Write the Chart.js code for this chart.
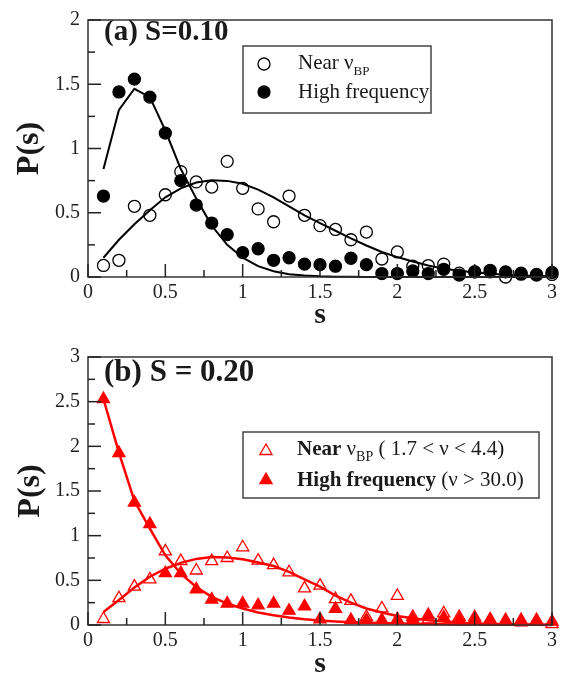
<!DOCTYPE html>
<html>
<head>
<meta charset="utf-8">
<title>P(s)</title>
<script src="https://cdn.jsdelivr.net/npm/chart.js"></script>
<style>
  html, body { margin: 0; padding: 0; background: #fff; }
  #wrap { position: relative; width: 572px; height: 674px; }
  canvas { position: absolute; left: 0; }
  #chartA { top: 0; }
  #chartB { top: 337px; }
</style>
</head>
<body>
<div id="wrap">
  <canvas id="chartA" width="572" height="337"></canvas>
  <canvas id="chartB" width="572" height="337"></canvas>
</div>
<script>
// spacing values s shared by every series
const sPoints = [0.1, 0.2, 0.3, 0.4, 0.5, 0.6, 0.7, 0.8, 0.9, 1.0,
                 1.1, 1.2, 1.3, 1.4, 1.5, 1.6, 1.7, 1.8, 1.9, 2.0,
                 2.1, 2.2, 2.3, 2.4, 2.5, 2.6, 2.7, 2.8, 2.9, 3.0];

// (a) S = 0.10
const nearA = [0.09, 0.13, 0.55, 0.48, 0.64, 0.82, 0.74, 0.70, 0.90, 0.69,
               0.53, 0.43, 0.63, 0.48, 0.40, 0.37, 0.29, 0.35, 0.14, 0.195,
               0.084, 0.089, 0.10, 0.03, 0.04, 0.04, 0.0, 0.03, 0.02, 0.02];
const highA = [0.63, 1.44, 1.54, 1.40, 1.12, 0.75, 0.56, 0.42, 0.33, 0.19,
               0.22, 0.13, 0.15, 0.10, 0.096, 0.084, 0.146, 0.096, 0.027, 0.027,
               0.047, 0.027, 0.06, 0.015, 0.04, 0.052, 0.04, 0.022, 0.015, 0.035];
const nearFitA = [0.15, 0.29, 0.41, 0.52, 0.62, 0.69, 0.735, 0.753, 0.748, 0.726,
                  0.68, 0.62, 0.55, 0.48, 0.42, 0.36, 0.30, 0.245, 0.195, 0.155,
                  0.12, 0.09, 0.064, 0.048, 0.035, 0.025, 0.018, 0.012, 0.008, 0.005];
const highFitA = [0.84, 1.30, 1.465, 1.40, 1.14, 0.84, 0.61, 0.40, 0.25, 0.15,
                  0.085, 0.045, 0.022, 0.011, 0.005, 0.002, 0.001, 0, 0, 0,
                  0, 0, 0, 0, 0, 0, 0, 0, 0, 0];

// (b) S = 0.20
const nearB = [0.067, 0.30, 0.43, 0.51, 0.825, 0.715, 0.61, 0.715, 0.75, 0.87,
               0.72, 0.67, 0.59, 0.41, 0.44, 0.29, 0.27, 0.09, 0.185, 0.325,
               0.09, 0.063, 0.13, 0.09, 0.085, 0.037, 0.037, 0.03, 0.037, 0.01];
const highB = [2.53, 1.925, 1.37, 1.13, 0.58, 0.58, 0.40, 0.285, 0.24, 0.24,
               0.22, 0.24, 0.16, 0.21, 0.063, 0.18, 0.055, 0.055, 0.055, 0.063,
               0.063, 0.11, 0.085, 0.063, 0.063, 0.063, 0.055, 0.055, 0.055, 0.037];
const nearFitB = [0.145, 0.28, 0.42, 0.54, 0.63, 0.695, 0.74, 0.76, 0.755, 0.735,
                  0.70, 0.66, 0.595, 0.51, 0.43, 0.33, 0.25, 0.185, 0.14, 0.10,
                  0.075, 0.052, 0.038, 0.026, 0.018, 0.012, 0.008, 0.005, 0.003, 0.002];
const highFitB = [2.53, 1.93, 1.39, 1.08, 0.78, 0.575, 0.425, 0.315, 0.24, 0.185,
                  0.14, 0.11, 0.085, 0.065, 0.05, 0.04, 0.032, 0.026, 0.021, 0.017,
                  0.013, 0.01, 0.008, 0.006, 0.005, 0.004, 0.003, 0.002, 0.002, 0.001];

// axis ticks
const xTicks = [0, 0.5, 1, 1.5, 2, 2.5, 3];
const yTicksA = [0, 0.5, 1, 1.5, 2];
const yTicksB = [0, 0.5, 1, 1.5, 2, 2.5, 3];

const SERIF = '"Liberation Serif", "Times New Roman", serif';
const INK = '#1a1a1a';

function xy(values) {
  return sPoints.map((s, i) => ({ x: s, y: values[i] }));
}

function drawRuns(ctx, runs, x, y) {
  let cx = x;
  for (const r of runs) {
    ctx.font = r.font;
    ctx.fillText(r.text, cx, y + (r.dy || 0));
    cx += ctx.measureText(r.text).width;
  }
}

// frame, inward ticks, panel label, axis titles and legend box
const panelDecor = {
  id: 'panelDecor',
  afterDatasetsDraw(chart, args, opts) {
    const { ctx, chartArea: a, scales } = chart;
    const sx = scales.x, sy = scales.y;
    ctx.save();

    ctx.strokeStyle = '#333';
    ctx.lineWidth = 1.5;
    ctx.strokeRect(a.left, a.top, a.right - a.left, a.bottom - a.top);

    ctx.strokeStyle = '#222';
    ctx.lineWidth = 1.5;
    const tick = (vals, horizontal) => {
      vals.forEach((v, i) => {
        const marks = [[v, 13]];
        if (i < vals.length - 1) marks.push([(v + vals[i + 1]) / 2, 7]);
        marks.forEach(([t, l]) => {
          ctx.beginPath();
          if (horizontal) {
            const px = sx.getPixelForValue(t);
            ctx.moveTo(px, a.bottom);
            ctx.lineTo(px, a.bottom - l);
          } else {
            const py = sy.getPixelForValue(t);
            ctx.moveTo(a.left, py);
            ctx.lineTo(a.left + l, py);
          }
          ctx.stroke();
        });
      });
    };
    tick(xTicks, true);
    tick(opts.yTicks, false);

    ctx.fillStyle = INK;
    ctx.textAlign = 'left';
    ctx.textBaseline = 'alphabetic';
    ctx.font = opts.titleFont;
    ctx.fillText(opts.title, opts.titleX, opts.titleY);

    // axis titles
    ctx.textAlign = 'center';
    ctx.textBaseline = 'middle';
    ctx.font = 'bold 30px ' + SERIF;
    ctx.fillText('s', (a.left + a.right) / 2, opts.sTitleY);
    ctx.save();
    ctx.translate(opts.pTitleX, (a.top + a.bottom) / 2);
    ctx.rotate(-Math.PI / 2);
    ctx.font = 'bold 32px ' + SERIF;
    ctx.fillText('P(s)', 0, 0);
    ctx.restore();

    // legend
    const L = opts.legend;
    ctx.strokeStyle = '#444';
    ctx.lineWidth = 1.5;
    ctx.strokeRect(L.box[0], L.box[1], L.box[2] - L.box[0], L.box[3] - L.box[1]);
    ctx.textAlign = 'left';
    ctx.textBaseline = 'alphabetic';
    L.rows.forEach(row => {
      ctx.strokeStyle = row.color;
      ctx.fillStyle = row.filled ? row.color : 'rgba(0,0,0,0)';
      ctx.lineWidth = 1.3;
      Chart.helpers.drawPoint(ctx, {
        pointStyle: row.style, radius: row.radius, rotation: 0, borderWidth: 1.3
      }, L.markX, row.markY);
      ctx.fillStyle = INK;
      drawRuns(ctx, row.runs, L.textX, row.baseY);
    });

    ctx.restore();
  }
};

function fitSet(values, color, width) {
  return {
    data: xy(values), borderColor: color, borderWidth: width,
    pointRadius: 0, showLine: true, tension: 0, fill: false, clip: false, order: 2
  };
}

function markSet(values, color, style, radius, filled) {
  return {
    data: xy(values), showLine: false, pointStyle: style, pointRadius: radius,
    pointHoverRadius: radius, pointBorderWidth: 1.3, pointBorderColor: color,
    pointBackgroundColor: filled ? color : 'rgba(0,0,0,0)', clip: false, order: 1
  };
}

function makeChart(id, cfg) {
  return new Chart(document.getElementById(id), {
    type: 'line',
    data: { datasets: cfg.datasets },
    plugins: [panelDecor],
    options: {
      responsive: false,
      animation: false,
      events: [],
      layout: { padding: { top: cfg.top, right: 20, left: 0, bottom: 0 } },
      plugins: {
        legend: { display: false },
        tooltip: { enabled: false },
        panelDecor: cfg.decor
      },
      scales: {
        x: {
          type: 'linear', min: 0, max: 3,
          grid: { display: false, drawTicks: false, tickLength: 0 },
          border: { display: false },
          afterBuildTicks: s => { s.ticks = xTicks.map(v => ({ value: v })); },
          afterFit: s => { s.height = cfg.xHeight; },
          ticks: {
            padding: 4, color: '#222', font: { family: SERIF, size: 20 },
            maxRotation: 0, autoSkip: false, callback: v => String(v)
          }
        },
        y: {
          type: 'linear', min: 0, max: cfg.yMax,
          grid: { display: false, drawTicks: false, tickLength: 0 },
          border: { display: false },
          afterBuildTicks: s => { s.ticks = cfg.yTicks.map(v => ({ value: v })); },
          afterFit: s => { s.width = 88; },
          ticks: { padding: 8, color: '#222', font: { family: SERIF, size: 20 }, callback: v => String(v) }
        }
      }
    }
  });
}

const REG = '21px ' + SERIF;
const BOLD = 'bold 21px ' + SERIF;

makeChart('chartA', {
  top: 7, xHeight: 60, yMax: 2, yTicks: yTicksA,
  datasets: [
    markSet(nearA, '#000', 'circle', 6, false),
    markSet(highA, '#000', 'circle', 6, true),
    fitSet(nearFitA, '#000', 2),
    fitSet(highFitA, '#000', 2)
  ],
  decor: {
    yTicks: yTicksA,
    title: '(a) S=0.10', titleFont: 'bold 29px ' + SERIF, titleX: 104, titleY: 40,
    sTitleY: 315, pTitleX: 30,
    legend: {
      box: [243, 46, 431, 113], markX: 264, textX: 298,
      rows: [
        { style: 'circle', radius: 6, filled: false, color: '#000', markY: 64, baseY: 69,
          runs: [{ text: 'Near ν', font: REG }, { text: 'BP', font: '13px ' + SERIF, dy: 6 }] },
        { style: 'circle', radius: 6, filled: true, color: '#000', markY: 92, baseY: 98,
          runs: [{ text: 'High frequency', font: REG }] }
      ]
    }
  }
});

makeChart('chartB', {
  top: 18, xHeight: 49, yMax: 3, yTicks: yTicksB,
  datasets: [
    markSet(nearB, '#ff0000', 'triangle', 7, false),
    markSet(highB, '#ff0000', 'triangle', 7, true),
    fitSet(nearFitB, '#ff0000', 2.5),
    fitSet(highFitB, '#ff0000', 2.5)
  ],
  decor: {
    yTicks: yTicksB,
    title: '(b) S = 0.20', titleFont: 'bold 31px ' + SERIF, titleX: 104, titleY: 44,
    sTitleY: 327, pTitleX: 31,
    legend: {
      box: [243, 95, 539, 161], markX: 266, textX: 297,
      rows: [
        { style: 'triangle', radius: 7, filled: false, color: '#ff0000', markY: 114, baseY: 118,
          runs: [{ text: 'Near ', font: BOLD }, { text: 'ν', font: REG },
                 { text: 'BP', font: '14px ' + SERIF, dy: 6 }, { text: ' ( 1.7 < ν < 4.4)', font: REG }] },
        { style: 'triangle', radius: 7, filled: true, color: '#ff0000', markY: 143, baseY: 149,
          runs: [{ text: 'High frequency ', font: BOLD }, { text: '(ν > 30.0)', font: REG }] }
      ]
    }
  }
});
</script>
</body>
</html>
